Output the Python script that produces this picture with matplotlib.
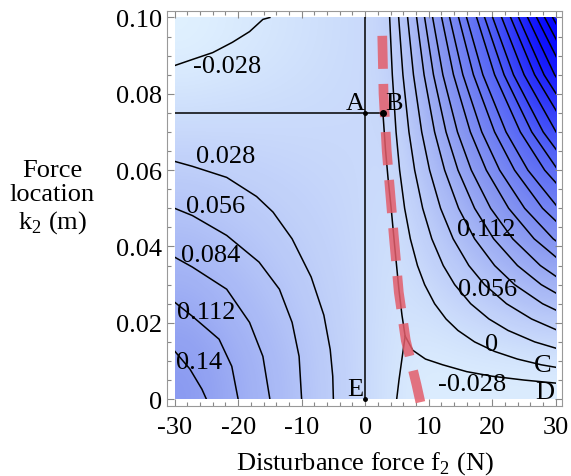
import matplotlib
matplotlib.use('Agg')
import matplotlib.pyplot as plt
import numpy as np
from matplotlib.colors import LinearSegmentedColormap
from matplotlib.ticker import MultipleLocator
from matplotlib.patches import Rectangle

plt.rcParams['font.family'] = ['Liberation Serif', 'DejaVu Serif']
plt.rcParams['mathtext.fontset'] = 'custom'
plt.rcParams['mathtext.rm'] = 'Liberation Serif'
plt.rcParams['axes.unicode_minus'] = False

# ---------------- data ----------------
x_ticks = [-30, -20, -10, 0, 10, 20, 30]
y_ticks = [0, 0.02, 0.04, 0.06, 0.08, 0.10]
y_tick_labels = ["0", "0.02", "0.04", "0.06", "0.08", "0.10"]

# estimated level value on a coarse grid (drives the shading)
shade_f = [-30, -25, -20, -15, -10, -5, 0, 5, 10, 15, 20, 25, 30]
shade_k = [0, 0.02, 0.04, 0.06, 0.08, 0.10]
shade_rows = [
    [0.169, 0.141, 0.112, 0.084, 0.056, 0.028, 0.0, -0.028, -0.047, -0.047, -0.047, -0.047, -0.047],
    [0.124, 0.103, 0.083, 0.062, 0.041, 0.021, 0.0, -0.021, -0.014, 0.007, 0.028, 0.048, 0.069],
    [0.079, 0.066, 0.053, 0.039, 0.026, 0.013, 0.0, -0.020, 0.021, 0.063, 0.104, 0.146, 0.187],
    [0.034, 0.028, 0.023, 0.017, 0.011, 0.006, 0.0, -0.005, 0.057, 0.119, 0.180, 0.243, 0.305],
    [-0.011, -0.009, -0.008, -0.006, -0.004, -0.002, 0.0, 0.009, 0.092, 0.175, 0.257, 0.340, 0.420],
    [-0.056, -0.047, -0.038, -0.028, -0.019, -0.009, 0.0, 0.024, 0.127, 0.230, 0.334, 0.437, 0.540],
]

# left-hand contour lines (f, k)
c_m028_f = [-30, -27.2, -24.0, -20.9, -18.2, -16.1, -15.0]
c_m028_k = [0.0874, 0.0890, 0.0908, 0.0935, 0.0963, 0.0995, 0.100]
c_028_f = [-30, -27.2, -21.8, -17.1, -14.5, -11.5, -8.5, -6.5, -5.5, -5.1, -5.0]
c_028_k = [0.0623, 0.0610, 0.0581, 0.0531, 0.0490, 0.0420, 0.0320, 0.0220, 0.0130, 0.0060, 0.0]
c_056_f = [-30, -27.2, -21.8, -16.7, -13.5, -11.5, -10.4, -10.0]
c_056_k = [0.0500, 0.0481, 0.0429, 0.0359, 0.0288, 0.0201, 0.0112, 0.0]
c_084_f = [-30, -27.2, -21.8, -18.2, -16.1, -15.0]
c_084_k = [0.0372, 0.0346, 0.0288, 0.0201, 0.0112, 0.0]
c_112_f = [-30, -27.2, -23.0, -21.0, -20.0]
c_112_k = [0.0254, 0.0217, 0.0157, 0.0086, 0.0]
c_140_f = [-30, -27.6, -25.7, -25.0]
c_140_k = [0.0126, 0.0079, 0.0026, 0.0]

# right-hand contour lines (levels 0, 0.028, ... 0.532): f read at these k
right_k = [0.1, 0.085, 0.07, 0.06, 0.05, 0.042, 0.035, 0.03, 0.025, 0.021,
           0.018, 0.015, 0.0125, 0.0105, 0.009, 0.0075, 0.006]
right_f = [
    [3.86, 4.28, 4.87, 5.43, 6.22, 7.12, 8.24, 9.37, 10.94, 12.74, 14.61, 17.23, 20.38, 23.98, 27.72, 32.97],
    [5.28, 5.95, 6.90, 7.80, 9.06, 10.50, 12.30, 14.10, 16.62, 19.50, 22.50, 26.70, 31.74],
    [6.69, 7.61, 8.91, 10.15, 11.88, 13.86, 16.33, 18.80, 22.26, 26.21, 30.33],
    [8.11, 9.28, 10.94, 12.52, 14.72, 17.24, 20.39, 23.53, 27.94, 32.98],
    [9.37, 10.76, 12.74, 14.62, 17.24, 20.24, 23.99, 27.73, 32.98],
    [10.63, 12.24, 14.54, 16.72, 19.76, 23.24, 27.59, 31.93],
    [12.05, 13.91, 16.57, 19.08, 22.60, 26.62, 31.64],
    [13.31, 15.39, 18.37, 21.18, 25.12, 29.62, 35.24],
    [14.72, 17.05, 20.39, 23.53, 27.94, 32.98],
    [15.98, 18.54, 22.19, 25.63, 30.46],
    [17.56, 20.39, 24.44, 28.27, 33.62],
    [18.82, 21.88, 26.24, 30.37],
    [20.08, 23.36, 28.04, 32.47],
    [21.50, 25.03, 30.07],
    [22.91, 26.69, 32.09],
    [24.17, 28.17, 33.89],
    [25.59, 29.84, 35.92],
    [27.01, 31.51],
    [28.27, 32.99],
    [29.53, 34.48],
]

# -0.028 line to the right of the boundary (apex -> D) and below it (apex -> bottom)
r_m028_f = [6.3, 7.5, 9.5, 12.2, 16.0, 20.0, 25.0, 30.0]
r_m028_k = [0.0165, 0.0128, 0.0105, 0.0090, 0.0072, 0.0060, 0.0050, 0.0042]
l_m028_f = [6.3, 5.75, 5.33, 4.97]
l_m028_k = [0.0165, 0.0100, 0.0050, 0.0]

# jump line from B down to the apex
jump_f = [2.8, 3.2, 3.6, 4.1, 4.6, 5.3, 5.8, 6.3]
jump_k = [0.075, 0.0655, 0.058, 0.050, 0.041, 0.029, 0.022, 0.0165]

# separating lines
axis_line_f = [0, 0]
axis_line_k = [0, 0.1]
ab_line_f = [-30, 2.8]
ab_line_k = [0.075, 0.075]

# red dashed boundary
red_f = [2.7, 2.9, 3.4, 4.0, 4.5, 5.3, 6.4, 8.1, 8.7]
red_k = [0.0952, 0.080, 0.065, 0.053, 0.043, 0.028, 0.0154, 0.0037, -0.0008]

contour_labels = [
    ("-0.028", -21.8, 0.0874), ("0.028", -22.0, 0.0636), ("0.056", -23.5, 0.0505),
    ("0.084", -24.3, 0.0377), ("0.112", -25.0, 0.0228), ("0.14", -26.1, 0.0097),
    ("0.112", 19.1, 0.0445), ("0.056", 19.3, 0.0288), ("0", 19.9, 0.0144),
    ("-0.028", 16.8, 0.0039),
]
point_labels = [("A", -1.5, 0.0777), ("B", 4.6, 0.0777), ("E", -1.6, 0.0026),
                ("C", 28.0, 0.0089), ("D", 28.3, 0.0018)]

# ---------------- drawing ----------------
fig = plt.figure(figsize=(5.71, 4.77), dpi=100)
ax = fig.add_axes([167 / 571, 1 - 407 / 477, 395 / 571, 395 / 477])

vmin, vmax = -0.06, 0.55
stops = [(-0.06, '#e1f2ff'), (0.0, '#c9d9fb'), (0.17, '#8a9af1'), (0.35, '#5262f6'), (0.55, '#0000ff')]
cmap = LinearSegmentedColormap.from_list(
    'mb', [((v - vmin) / (vmax - vmin), c) for v, c in stops])
ax.imshow(np.array(shade_rows), origin='lower', aspect='auto', cmap=cmap, vmin=vmin, vmax=vmax,
          extent=[shade_f[0], shade_f[-1], shade_k[0], shade_k[-1]],
          interpolation='bicubic', zorder=0)

clip = Rectangle((-30, 0), 60, 0.1, transform=ax.transData, facecolor='none', edgecolor='none')
ax.add_patch(clip)

lw = 1.1
segs = [(c_m028_f, c_m028_k), (c_028_f, c_028_k), (c_056_f, c_056_k),
        (c_084_f, c_084_k), (c_112_f, c_112_k), (c_140_f, c_140_k),
        (axis_line_f, axis_line_k), (ab_line_f, ab_line_k),
        (r_m028_f, r_m028_k), (l_m028_f, l_m028_k), (jump_f, jump_k)]
for row in right_f:
    segs.append((row, right_k[:len(row)]))
for fs, ks in segs:
    ln, = ax.plot(fs, ks, color='black', lw=lw, zorder=2)
    ln.set_clip_path(clip)

ax.plot(red_f, red_k, color='#e35d6a', lw=7, alpha=0.85, dashes=(3.4, 1.55),
        solid_capstyle='butt', dash_capstyle='butt', zorder=3)

ax.plot([0, 0], [0.075, 0], 'o', color='black', ms=2.5, zorder=4, clip_on=False)
ax.plot([2.8], [0.075], 'o', color='black', ms=4, zorder=4)

for t, f, k in contour_labels:
    ax.text(f, k, t, fontsize=19, ha='center', va='center', zorder=5)
for t, f, k in point_labels:
    ax.text(f, k, t, fontsize=19, ha='center', va='center', zorder=5)

ax.set_xlim(-31.2, 31.0)
ax.set_ylim(-0.0018, 0.1017)
ax.set_xticks(x_ticks)
ax.set_yticks(y_ticks)
ax.set_yticklabels(y_tick_labels)
ax.xaxis.set_minor_locator(MultipleLocator(2))
ax.yaxis.set_minor_locator(MultipleLocator(0.005))
ax.tick_params(which='both', direction='in', top=True, right=True, color='#888888',
               labelsize=19, labelcolor='black')
ax.tick_params(axis='x', which='major', pad=7)
ax.tick_params(which='major', length=5, width=0.8)
ax.tick_params(which='minor', length=3, width=0.8)
for s in ax.spines.values():
    s.set_color('#999999')
    s.set_linewidth(0.8)

ax.set_xlabel(r'Disturbance force f$_\mathregular{2}$ (N)', fontsize=19, labelpad=8)
fig.text(52 / 571, 1 - 198 / 477, 'Force\nlocation\nk$_\\mathregular{2}$ (m)', fontsize=19,
         ha='center', va='center', linespacing=1.15)

fig.savefig('out.png', dpi=100)
